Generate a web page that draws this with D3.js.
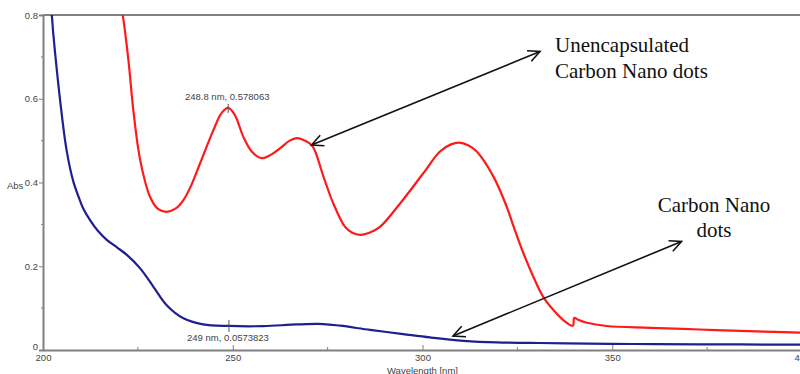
<!DOCTYPE html>
<html>
<head>
<meta charset="utf-8">
<script src="https://cdn.jsdelivr.net/npm/d3@7"></script>
<style>
  html, body { margin: 0; padding: 0; background: #fff; }
  svg { display: block; }
  .tick text { font-family: Arial, "Liberation Sans", sans-serif; font-size: 9.5px; fill: #444; }
</style>
</head>
<body>
<svg id="chart" width="800" height="374"></svg>
<script>
// UV-Vis absorbance spectra (wavelength in nm, absorbance in Abs units)
const encapWavelength = [200.5, 202.3, 202.7, 204.5, 206.2, 208.0, 209.7, 210.6, 212.4, 214.5, 216.8, 219.5, 222.1, 225.6, 229.1, 232.6, 237.0, 242.2, 249.0, 258.0, 266.9, 273.9, 278.3, 286.2, 294.9, 302.0, 310.8, 319.6, 328.3, 338.0, 355.5, 373.0, 398.6, 402.0];
const encapAbs        = [0.90, 0.80, 0.756, 0.597, 0.478, 0.402, 0.358, 0.338, 0.310, 0.284, 0.263, 0.245, 0.227, 0.195, 0.151, 0.107, 0.0757, 0.0613, 0.0574, 0.057, 0.061, 0.062, 0.058, 0.048, 0.038, 0.030, 0.022, 0.018, 0.017, 0.016, 0.0143, 0.0136, 0.0127, 0.0125];

const unencapWavelength = [220.5, 221.0, 222.5, 223.8, 225.6, 228.2, 230.3, 232.6, 235.0, 237.0, 239.0, 241.4, 244.9, 247.0, 248.8, 250.5, 252.8, 255.0, 257.6, 260.0, 262.5, 265.0, 266.9, 268.8, 271.0, 273.9, 276.5, 279.6, 281.5, 283.5, 286.0, 288.8, 294.1, 300.2, 304.6, 307.5, 309.7, 312.0, 314.3, 318.7, 322.2, 324.0, 326.6, 329.2, 331.8, 334.5, 337.1, 339.6, 340.0, 341.0, 343.3, 348.5, 360.0, 373.0, 386.0, 402.0];
const unencapAbs        = [0.82, 0.80, 0.693, 0.573, 0.454, 0.366, 0.337, 0.330, 0.338, 0.358, 0.392, 0.446, 0.525, 0.565, 0.578, 0.562, 0.509, 0.474, 0.458, 0.466, 0.482, 0.500, 0.506, 0.501, 0.487, 0.414, 0.350, 0.294, 0.280, 0.275, 0.280, 0.294, 0.350, 0.422, 0.474, 0.491, 0.495, 0.489, 0.474, 0.414, 0.342, 0.295, 0.231, 0.175, 0.127, 0.0955, 0.0716, 0.058, 0.077, 0.072, 0.065, 0.0573, 0.053, 0.049, 0.045, 0.041];

const xMajorTicks = [200, 250, 300, 350, 400];
const xMinorTicks = [225, 275, 325, 375];
const yMajorTicks = [0, 0.2, 0.4, 0.6, 0.8];
const yMinorTicks = [0.1, 0.3, 0.5, 0.7];

// Peak readouts: [wavelength, absorbance, label]
const peakMarks = [
  [248.8, 0.578063, "248.8 nm, 0.578063"],
  [249, 0.0573823, "249 nm, 0.0573823"]
];

const svg = d3.select("#chart");
const plotLeft = 43, plotTop = 15, plotBottom = 350, plotRight = 802;

const x = d3.scaleLinear().domain([200, 400]).range([plotLeft, plotRight]);
const y = d3.scaleLinear().domain([0, 0.8]).range([plotBottom, plotTop]);

svg.append("defs").append("clipPath").attr("id", "plotClip")
  .append("rect").attr("x", plotLeft).attr("y", plotTop)
  .attr("width", plotRight - plotLeft).attr("height", plotBottom - plotTop);

const axisColor = "#808080";

// Y axis
const yAxis = svg.append("g").attr("transform", `translate(${plotLeft},0)`)
  .call(d3.axisLeft(y).tickValues(yMajorTicks).tickSize(4).tickPadding(1)
    .tickFormat(d => d === 0 ? "0" : d3.format(".1f")(d)));
yAxis.select(".domain").attr("stroke", axisColor).attr("stroke-width", 2);
yAxis.selectAll(".tick line").attr("stroke", axisColor);
yAxis.selectAll(".tick text").filter(d => d === 0).attr("dy", "-0.05em");
yAxis.selectAll(".minor").data(yMinorTicks).enter().append("line")
  .attr("class", "minor")
  .attr("x1", -2).attr("x2", 1).attr("y1", d => y(d)).attr("y2", d => y(d))
  .attr("stroke", axisColor);

// X axis (ticks point into the plot)
const xAxis = svg.append("g").attr("transform", `translate(0,${plotBottom})`)
  .call(d3.axisBottom(x).tickValues(xMajorTicks).tickSizeInner(-5).tickSizeOuter(0).tickPadding(4)
    .tickFormat(d3.format("d")));
xAxis.select(".domain").attr("stroke", axisColor).attr("stroke-width", 2);
xAxis.selectAll(".tick line").attr("stroke", axisColor);
xAxis.selectAll(".minor").data(xMinorTicks).enter().append("line")
  .attr("class", "minor")
  .attr("x1", d => x(d)).attr("x2", d => x(d)).attr("y1", -3).attr("y2", 0)
  .attr("stroke", axisColor);

// Top frame
svg.append("line").attr("x1", plotLeft).attr("x2", 800).attr("y1", plotTop).attr("y2", plotTop)
  .attr("stroke", axisColor).attr("stroke-width", 2);

// Axis titles
svg.append("text").attr("x", 7).attr("y", 189).text("Abs")
  .attr("font-family", "Arial, 'Liberation Sans', sans-serif").attr("font-size", 9.5).attr("fill", "#444");
svg.append("text").attr("x", 387).attr("y", 373.5).text("Wavelength [nm]")
  .attr("font-family", "Arial, 'Liberation Sans', sans-serif").attr("font-size", 9.5).attr("fill", "#444");

// Spectra
const line = d3.line().x(d => x(d[0])).y(d => y(d[1])).curve(d3.curveCatmullRom.alpha(0.5));
const plot = svg.append("g").attr("clip-path", "url(#plotClip)");
plot.append("path").datum(d3.zip(unencapWavelength, unencapAbs))
  .attr("d", line).attr("fill", "none").attr("stroke", "#ff1a1a").attr("stroke-width", 2.2);
plot.append("path").datum(d3.zip(encapWavelength, encapAbs))
  .attr("d", line).attr("fill", "none").attr("stroke", "#1f1f8f").attr("stroke-width", 2.2);

// Peak readouts
peakMarks.forEach(([wl, a, label], i) => {
  const px = x(wl), py = y(a);
  svg.append("line").attr("x1", px).attr("x2", px)
    .attr("y1", i === 0 ? py - 4 : py - 6).attr("y2", i === 0 ? py + 5 : py + 6)
    .attr("stroke", "#555").attr("stroke-width", 1);
  svg.append("text").attr("x", px - 1).attr("y", i === 0 ? py - 8 : py + 15)
    .attr("text-anchor", "middle").text(label)
    .attr("font-family", "Arial, 'Liberation Sans', sans-serif").attr("font-size", 9.5).attr("fill", "#444");
});

// Double-headed annotation arrows
function arrowHead(tipX, tipY, fromX, fromY) {
  const ang = Math.atan2(fromY - tipY, fromX - tipX);
  const len = 13, spread = 0.45;
  const p1 = [tipX + len * Math.cos(ang + spread), tipY + len * Math.sin(ang + spread)];
  const p2 = [tipX + len * Math.cos(ang - spread), tipY + len * Math.sin(ang - spread)];
  return `M${p1[0]},${p1[1]}L${tipX},${tipY}L${p2[0]},${p2[1]}`;
}
const arrows = [
  [311.5, 145, 540, 51.5],
  [453, 336, 681.5, 241.5]
];
arrows.forEach(([x1, y1, x2, y2]) => {
  const g = svg.append("g").attr("stroke", "#111").attr("stroke-width", 1.6).attr("fill", "none");
  g.append("line").attr("x1", x1).attr("y1", y1).attr("x2", x2).attr("y2", y2);
  g.append("path").attr("d", arrowHead(x1, y1, x2, y2));
  g.append("path").attr("d", arrowHead(x2, y2, x1, y1));
});

// Series labels
const serif = "'Times New Roman', 'Liberation Serif', serif";
const lab1 = svg.append("text").attr("font-family", serif).attr("font-size", 21).attr("fill", "#111");
lab1.append("tspan").attr("x", 555).attr("y", 52).text("Unencapsulated");
lab1.append("tspan").attr("x", 555).attr("y", 78).text("Carbon Nano dots");
const lab2 = svg.append("text").attr("font-family", serif).attr("font-size", 21).attr("fill", "#111").attr("text-anchor", "middle");
lab2.append("tspan").attr("x", 714).attr("y", 212).text("Carbon Nano");
lab2.append("tspan").attr("x", 714).attr("y", 237).text("dots");
</script>
</body>
</html>
